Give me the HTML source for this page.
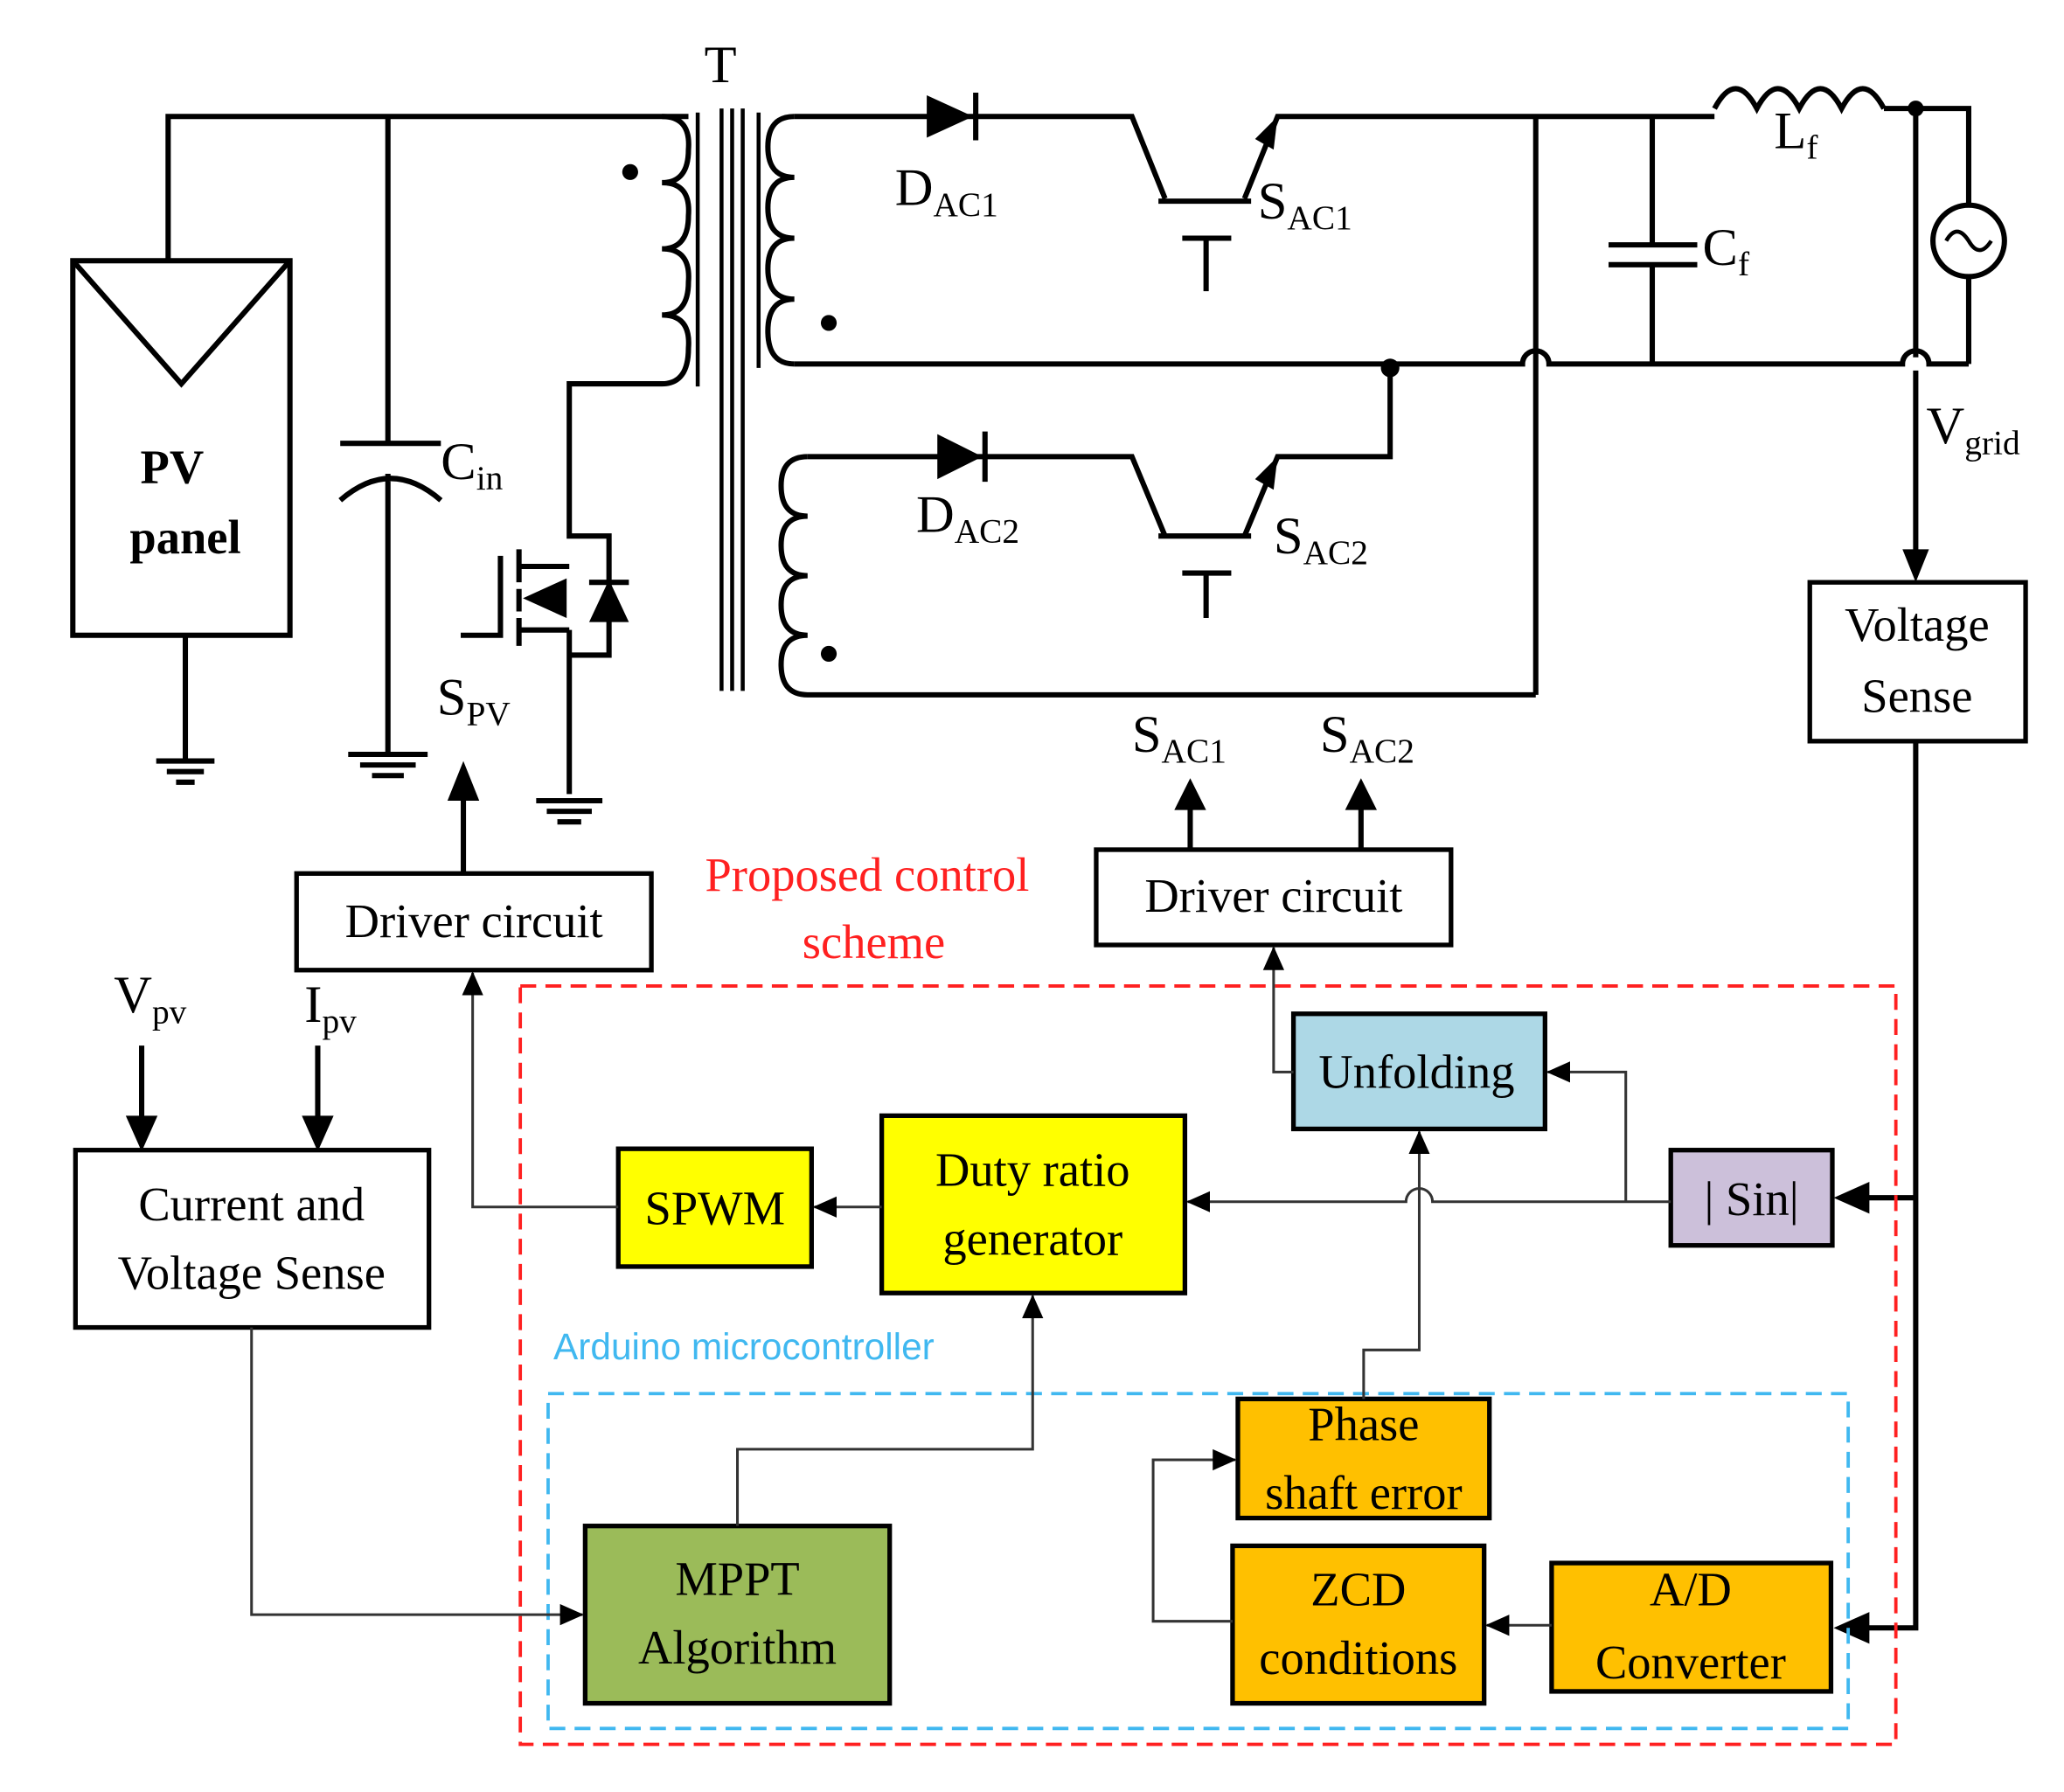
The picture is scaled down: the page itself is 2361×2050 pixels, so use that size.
<!DOCTYPE html>
<html><head><meta charset="utf-8"><style>
html,body{margin:0;padding:0;background:#fff;}
svg{display:block;}
text{font-family:"Liberation Serif",serif;}
</style></head><body>
<svg width="2361" height="2050" viewBox="0 0 1559 1354" preserveAspectRatio="none" xmlns="http://www.w3.org/2000/svg">
<defs>
<marker id="a" markerWidth="18" markerHeight="18" refX="17" refY="9" orient="auto" markerUnits="userSpaceOnUse" viewBox="0 0 18 18"><path d="M0,1 L18,9 L0,17 z" fill="#000"/></marker>
</defs>
<rect width="1559" height="1354" fill="#fff"/>
<g stroke="#000" stroke-width="4" fill="none">
<rect x="55" y="197" width="164" height="283"/>
<path d="M55,197 L137,290 L219,197"/>
<path d="M127,197 V88 H520"/>
<path d="M140,480 V575"/>
<path d="M118,575 H162 M126,583 H154 M133,591 H147"/>
<path d="M293,88 V335 M257,335 H333 M257,378 Q295,345 333,378 M293,358 V570"/>
<path d="M263,570 H323 M272,578 H314 M281,586 H305"/>
<path d="M500,88 Q522,88 520,113 Q520,138 500,138 Q522,138 520,163 Q520,188 500,188 Q522,188 520,213 Q520,238 500,238 Q522,238 520,263 Q520,290 500,290 H430 V390"/>
<path d="M527,85 V292 M545,82 V522 M553,82 V522 M561,82 V522 M573,85 V278" stroke-width="3"/>
<path d="M600,88 Q580,88 580,111 Q580,134 600,134 Q580,134 580,157 Q580,180 600,180 Q580,180 580,203 Q580,226 600,226 Q580,226 580,250 Q580,275 600,275"/>
<path d="M600,88 H855 L880,150 M875,152 H945 M893,180 H930 M911,180 V220 M940,150 L965,88 H1295"/>
<path d="M1295,82 q16,-30 32,0 q16,-30 32,0 q16,-30 32,0 q16,-30 32,0 M1423,82 H1487 V155 M1487,209 V275"/>
<circle cx="1487" cy="182" r="27"/>
<path d="M1470,182 q8,-14 17,0 q8,14 17,0" stroke-width="3"/>
<path d="M600,275 H1150 a10,10 0 0 1 20,0 H1437 a10,10 0 0 1 20,0 H1487"/>
<path d="M1160,88 V525 M1248,88 V185 M1215,185 H1282 M1215,200 H1282 M1248,200 V275"/>
<path d="M610,345 Q590,345 590,367 Q590,390 610,390 Q590,390 590,412 Q590,435 610,435 Q590,435 590,457 Q590,480 610,480 Q590,480 590,502 Q590,525 610,525 H1160"/>
<path d="M610,345 H855 L880,405 M875,405 H945 M893,433 H930 M911,433 V467 M940,405 L965,345 H1050 V278"/>
<path d="M1447,82 V270 M1447,280 V425"/>
<path d="M430,390 V405 H460 V495 H430 V600 M392,415 V440 M392,445 V462 M392,467 V488 M378,420 V480 H348 M392,428 H430 M392,476 H430 M430,476 V495"/>
<path d="M405,605 H455 M413,613 H447 M421,621 H439"/>
<path d="M445,440 H475"/>
<rect x="224" y="660" width="268" height="73" stroke-width="3.5"/>
<rect x="828" y="642" width="268" height="72" stroke-width="3.5"/>
<rect x="1367" y="440" width="163" height="120" stroke-width="3.5"/>
<rect x="57" y="869" width="267" height="134" stroke-width="3.5"/>
<path d="M350,660 V600 M899,642 V610 M1028,642 V610 M107,790 V845 M240,790 V845"/>
<path d="M1447,560 V1230 H1410 M1447,905 H1410"/>
</g>
<g fill="#000">
<path d="M700,72 L735,88 L700,104 z M735,70 h4 v36 h-4z"/>
<path d="M708,328 L742,345 L708,362 z M742,326 h4 v38 h-4z"/>
<path d="M965,88 l-3,25 l-14,-8z"/>
<path d="M965,345 l-3,25 l-14,-8z"/>
<path d="M460,438 L445,470 L475,470 z"/>
<path d="M395,452 L428,437 L428,467 z"/>
<circle cx="476" cy="130" r="6"/><circle cx="626" cy="244" r="6"/><circle cx="626" cy="494" r="6"/>
<circle cx="1050" cy="278" r="7"/><circle cx="1447" cy="82" r="6"/>
<path d="M1437,415 L1457,415 L1447,440z"/>
<path d="M338,605 L362,605 L350,575z M887,612 L911,612 L899,588z M1016,612 L1040,612 L1028,588z"/>
<path d="M95,843 L119,843 L107,870z M228,843 L252,843 L240,870z"/>
<path d="M1412,1218 L1412,1242 L1385,1230z M1412,893 L1412,917 L1385,905z"/>
</g>
<rect x="393" y="745" width="1039" height="573" fill="none" stroke="#ff2020" stroke-width="2.5" stroke-dasharray="12,7"/>
<rect x="414" y="1053" width="982" height="253" fill="none" stroke="#40b8f0" stroke-width="2.5" stroke-dasharray="12,7"/>
<g stroke="#000" stroke-width="3.5">
<rect x="467" y="868" width="146" height="89" fill="#ffff00"/>
<rect x="666" y="843" width="229" height="134" fill="#ffff00"/>
<rect x="977" y="766" width="190" height="87" fill="#add8e6"/>
<rect x="1262" y="869" width="122" height="72" fill="#ccc0da"/>
<rect x="442" y="1153" width="230" height="134" fill="#9bbb59"/>
<rect x="935" y="1057" width="190" height="90" fill="#ffc000"/>
<rect x="931" y="1168" width="190" height="119" fill="#ffc000"/>
<rect x="1172" y="1181" width="211" height="97" fill="#ffc000"/>
</g>
<g stroke="#333" stroke-width="2" fill="none" marker-end="url(#a)">
<path d="M1262,908 H1082 a10,10 0 0 0 -20,0 H897"/>
<path d="M1228,908 V810 H1169"/>
<path d="M666,912 H615"/>
<path d="M467,912 H357 V735"/>
<path d="M977,810 H962 V716"/>
<path d="M1030,1057 V1020 H1072 V855"/>
<path d="M557,1153 V1095 H780 V979"/>
<path d="M1172,1228 H1123"/>
<path d="M931,1225 H871 V1103 H933"/>
<path d="M190,1003 V1220 H440"/>
</g>
<g font-size="40" fill="#000">
<text x="532" y="62">T</text>
<text x="676" y="155">D<tspan font-size="26" dy="8">AC1</tspan></text>
<text x="950" y="165">S<tspan font-size="26" dy="8">AC1</tspan></text>
<text x="1340" y="112">L<tspan font-size="26" dy="8">f</tspan></text>
<text x="1286" y="200">C<tspan font-size="26" dy="8">f</tspan></text>
<text x="333" y="362">C<tspan font-size="26" dy="8">in</tspan></text>
<text x="692" y="402">D<tspan font-size="26" dy="8">AC2</tspan></text>
<text x="962" y="418">S<tspan font-size="26" dy="8">AC2</tspan></text>
<text x="1455" y="335">V<tspan font-size="26" dy="8">grid</tspan></text>
<text x="330" y="540">S<tspan font-size="26" dy="8">PV</tspan></text>
<text x="855" y="568">S<tspan font-size="26" dy="8">AC1</tspan></text>
<text x="997" y="568">S<tspan font-size="26" dy="8">AC2</tspan></text>
<text x="86" y="765">V<tspan font-size="26" dy="8">pv</tspan></text>
<text x="230" y="772">I<tspan font-size="26" dy="8">pv</tspan></text>
</g>
<g font-size="36" fill="#000" text-anchor="middle">
<text x="130" y="365" font-weight="bold">PV</text>
<text x="140" y="418" font-weight="bold">panel</text>
<text x="358" y="708">Driver circuit</text>
<text x="962" y="689">Driver circuit</text>
<text x="1448" y="484">Voltage</text>
<text x="1448" y="538">Sense</text>
<text x="190" y="922">Current and</text>
<text x="190" y="974">Voltage Sense</text>
<text x="540" y="925">SPWM</text>
<text x="780" y="896">Duty ratio</text>
<text x="780" y="948">generator</text>
<text x="1070" y="822">Unfolding</text>
<text x="1323" y="918">| Sin|</text>
<text x="557" y="1205">MPPT</text>
<text x="557" y="1257">Algorithm</text>
<text x="1030" y="1088">Phase</text>
<text x="1030" y="1140">shaft error</text>
<text x="1026" y="1213">ZCD</text>
<text x="1026" y="1265">conditions</text>
<text x="1277" y="1213">A/D</text>
<text x="1277" y="1268">Converter</text>
<text x="655" y="673" fill="#ff2020">Proposed control</text>
<text x="660" y="724" fill="#ff2020">scheme</text>
</g>
<text x="418" y="1027" font-size="28" fill="#40b8f0" style="font-family:'Liberation Sans',sans-serif">Arduino microcontroller</text>
</svg>
</body></html>
